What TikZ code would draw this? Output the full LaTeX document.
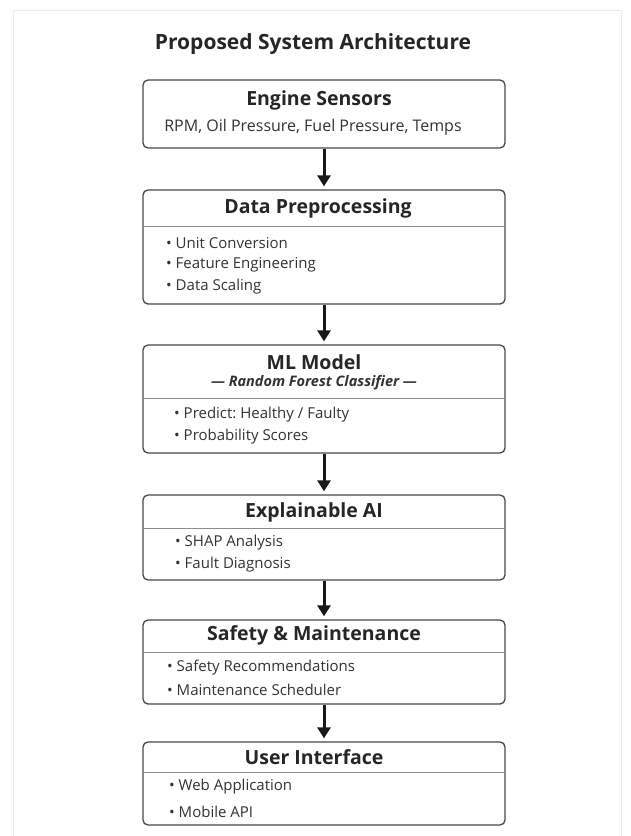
\documentclass[tikz,border=0pt]{standalone}
\usepackage{fontspec}
\setmainfont{Open Sans}
\usetikzlibrary{arrows.meta}
\frenchspacing
\tikzset{
  box/.style={draw=black!72, line width=1.3pt, rounded corners=5pt, minimum width=362pt, inner sep=0pt, fill=white},
  sepline/.style={draw=black!45, line width=1pt},
  head/.style={font=\fontsize{19.5}{22}\selectfont\bfseries, text=black!85, inner sep=0pt},
  sub/.style={font=\fontsize{16}{19}\selectfont, text=black!80, inner sep=0pt},
  item/.style={font=\fontsize{15}{18}\selectfont, text=black!80, inner sep=0pt, anchor=west},
  arr/.style={draw=black!90, line width=3pt, -{Triangle[length=11pt,width=13pt]}, shorten >=3pt},
}
\begin{document}
\begin{tikzpicture}[x=1pt,y=-1pt]
\useasboundingbox (0,0) rectangle (630,836);
\fill[white] (0,0) rectangle (630,836);
\draw[black!8, line width=1pt] (13,10) rectangle (621,840);
\node[font=\fontsize{21}{24}\selectfont\bfseries, text=black!85, inner sep=0pt] (title) at (313,44) {Proposed System Architecture};
% boxes
\node[box, minimum height=68pt] (b1) at (324,114) {};
\node[box, minimum height=114pt] (b2) at (324,247) {};
\node[box, minimum height=108pt] (b3) at (324,399) {};
\node[box, minimum height=85pt] (b4) at (324,537.5) {};
\node[box, minimum height=84pt] (b5) at (324,662) {};
\node[box, minimum height=83pt] (b6) at (324,783.5) {};
% separators
\draw[sepline] (143,226) -- (505,226);
\draw[sepline] (143,398) -- (505,398);
\draw[sepline] (143,528) -- (505,528);
\draw[sepline] (143,652) -- (505,652);
\draw[sepline] (143,772) -- (505,772);
% box 1
\node[head] (h1) at (319,100) {Engine Sensors};
\node[sub] (s1) at (313,127) {RPM, Oil Pressure, Fuel Pressure, Temps};
% box 2
\node[head] (h2) at (318,208) {Data Preprocessing};
\node[item] (i21) at (166,243) {• Unit Conversion};
\node[item] (i22) at (166,265) {• Feature Engineering};
\node[item] (i23) at (166,287) {• Data Scaling};
% box 3
\node[head] (h3) at (314,362) {ML Model};
\node[sub, font=\fontsize{14.5}{17}\selectfont\bfseries\itshape] (s3) at (314,383) {— Random Forest Classifier —};
\node[item] (i31) at (174,415) {• Predict: Healthy / Faulty};
\node[item] (i32) at (174,437) {• Probability Scores};
% box 4
\node[head] (h4) at (314,512) {Explainable AI};
\node[item] (i41) at (175,543) {• SHAP Analysis};
\node[item] (i42) at (175,565) {• Fault Diagnosis};
% box 5
\node[head] (h5) at (314,635) {Safety \& Maintenance};
\node[item] (i51) at (167,668) {• Safety Recommendations};
\node[item] (i52) at (167,690) {• Maintenance Scheduler};
% box 6
\node[head] (h6) at (314,757) {User Interface};
\node[item] (i61) at (169,787) {• Web Application};
\node[item] (i62) at (169,812) {• Mobile API};
% arrows
\draw[arr] (b1.south) -- (b2.north);
\draw[arr] (b2.south) -- (b3.north);
\draw[arr] (b3.south) -- (b4.north);
\draw[arr] (b4.south) -- (b5.north);
\draw[arr] (b5.south) -- (b6.north);
\end{tikzpicture}
\end{document}
